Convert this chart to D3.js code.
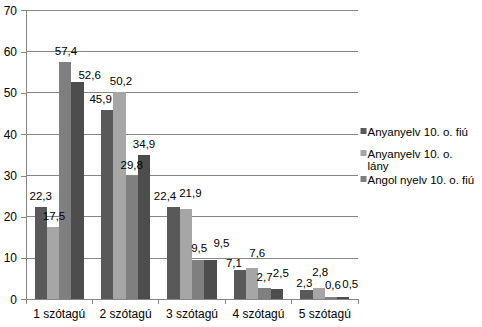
<!DOCTYPE html>
<html><head><meta charset="utf-8">
<script src="https://cdn.jsdelivr.net/npm/d3@7"></script>
<style>body{margin:0;background:#fff}svg{display:block}text{font-family:Arial,"Liberation Sans",sans-serif;fill:#000}</style>
</head><body>
<svg id="c" width="482" height="327"></svg>
<script>
const categories = ["1 szótagú","2 szótagú","3 szótagú","4 szótagú","5 szótagú"];
const seriesNames = ["Anyanyelv 10. o. fiú","Anyanyelv 10. o. lány","Angol nyelv 10. o. fiú","Angol nyelv 10. o. lány"];
const s1 = [22.3,45.9,22.4,7.1,2.3];
const s2 = [17.5,50.2,21.9,7.6,2.8];
const s3 = [57.4,29.8,9.5,2.7,0.6];
const s4 = [52.6,34.9,9.5,2.5,0.5];
const yTicks = [0,10,20,30,40,50,60,70];
const legendShown = 3;

const series = [s1,s2,s3,s4];
const colors = ["#595959","#a6a6a6","#7f7f7f","#4d4d4d"];
// label nudges (dx, dy) emulating the original label collision avoidance
const nudge = [
  [[0,0],[-6.5,0],[-8.5,0],[-6,3.5],[-2,4]],
  [[1,0],[1.5,0],[4.5,-5],[5,-3.7],[1.5,-5]],
  [[0.6,0],[0,0],[1,-1.5],[0,0],[2,-1]],
  [[12,4],[0,0],[11,-6.5],[4,-5],[7,-2]]
];

const svg = d3.select("#c");
const m = {l:26, r:358, t:10.3, b:299.4};
const x = d3.scaleBand().domain(categories).range([m.l,m.r]).paddingInner(0).paddingOuter(0);
const y = d3.scaleLinear().domain([0,70]).range([m.b,m.t]);
const inner = d3.scaleBand().domain(d3.range(4)).range([0,x.bandwidth()]).paddingInner(0).paddingOuter(0.7);
const grid = "#868686";

// gridlines
svg.append("g").selectAll("line").data(yTicks.filter(d=>d>0)).join("line")
  .attr("x1",m.l).attr("x2",m.r).attr("y1",d=>y(d)).attr("y2",d=>y(d))
  .attr("stroke",grid).attr("stroke-width",1).attr("shape-rendering","crispEdges");

// y axis
const ya = svg.append("g").attr("transform",`translate(${m.l},0)`)
  .call(d3.axisLeft(y).tickValues(yTicks).tickSize(5).tickPadding(4).tickFormat(d3.format("d")));
ya.select(".domain").attr("stroke",grid).attr("shape-rendering","crispEdges");
ya.selectAll(".tick line").attr("stroke",grid).attr("shape-rendering","crispEdges");
ya.selectAll("text").attr("font-size","12px").attr("font-family","Arial, 'Liberation Sans', sans-serif").attr("fill","#000");

// bars
series.forEach((s,si)=>{
  svg.append("g").selectAll("rect").data(s).join("rect")
    .attr("x",(d,i)=>x(categories[i])+inner(si))
    .attr("width",inner.bandwidth())
    .attr("y",d=>y(d)).attr("height",d=>y(0)-y(d))
    .attr("fill",colors[si]).attr("shape-rendering","crispEdges");
});

// x axis
const xa = svg.append("g").attr("transform",`translate(0,${m.b})`)
  .call(d3.axisBottom(x).tickSize(0).tickPadding(10));
xa.select(".domain").attr("stroke",grid).attr("shape-rendering","crispEdges");
xa.selectAll("text").attr("font-size","12px").attr("font-family","Arial, 'Liberation Sans', sans-serif").attr("fill","#000");
svg.append("g").selectAll("line").data(d3.range(categories.length+1)).join("line")
  .attr("x1",i=>m.l+i*x.step()).attr("x2",i=>m.l+i*x.step())
  .attr("y1",m.b).attr("y2",m.b+5).attr("stroke",grid).attr("shape-rendering","crispEdges");

// data labels
const fmt = d=>d.toFixed(1).replace(".",",");
series.forEach((s,si)=>{
  svg.append("g").selectAll("text").data(s).join("text")
    .attr("x",(d,i)=>x(categories[i])+inner(si)+inner.bandwidth()/2+nudge[si][i][0])
    .attr("y",(d,i)=>y(d)-7+nudge[si][i][1])
    .attr("text-anchor","middle").attr("font-size","11.5px").text(fmt);
});

// legend
const legendLines = [["Anyanyelv 10. o. fiú"],["Anyanyelv 10. o.","lány"],["Angol nyelv 10. o. fiú"]];
const legendY = [136,158,184];
for(let k=0;k<legendShown;k++){
  const g = svg.append("g");
  g.append("rect").attr("x",360.5).attr("y",legendY[k]-8).attr("width",6).attr("height",6).attr("fill",colors[k]);
  legendLines[k].forEach((t,li)=>{
    g.append("text").attr("x",367.5).attr("y",legendY[k]+li*12).attr("font-size","11.5px").text(t);
  });
}
</script>
</body></html>
